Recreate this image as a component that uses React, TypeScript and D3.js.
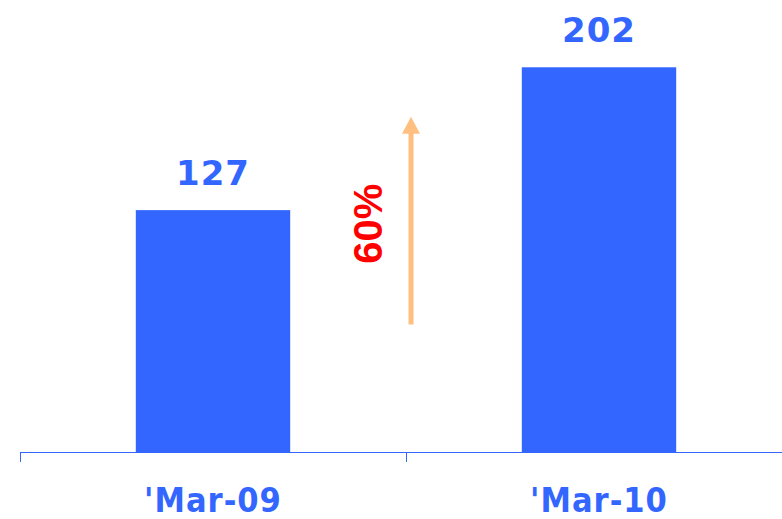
import React, { useEffect, useRef } from 'react';
import * as d3 from 'd3';

const categories = ["'Mar-09", "'Mar-10"];
const values = [127, 202];
const growthLabel = '60%';
// arrow runs between these two values on the y scale
const arrowRange = [67, 176];

const W = 782;
const H = 519;

const App = () => {
  const svgRef = useRef<SVGSVGElement | null>(null);

  useEffect(() => {
    const svg = d3.select(svgRef.current);
    svg.selectAll('*').remove();

    const blue = '#3366ff';
    const baseY = 452;

    // each category owns a full band; bars sit in the middle 40%
    const band = d3.scaleBand<string>()
      .domain(categories)
      .range([20, 792])
      .paddingInner(0)
      .paddingOuter(0);

    const barX = d3.scaleBand<string>()
      .domain(categories)
      .range([20, 792])
      .paddingInner(0.6)
      .paddingOuter(0.3);

    const y = d3.scaleLinear()
      .domain([0, 220])
      .range([baseY, 33]);

    // bars
    svg.append('g')
      .selectAll('rect')
      .data(values)
      .enter()
      .append('rect')
      .attr('x', (d, i) => barX(categories[i]) as number)
      .attr('y', d => y(d))
      .attr('width', barX.bandwidth())
      .attr('height', d => baseY - y(d))
      .attr('fill', blue);

    // value labels
    svg.append('g')
      .selectAll('text')
      .data(values)
      .enter()
      .append('text')
      .attr('x', (d, i) => (barX(categories[i]) as number) + barX.bandwidth() / 2)
      .attr('y', d => y(d) - 25)
      .attr('text-anchor', 'middle')
      .style('font-family', '"DejaVu Sans", sans-serif')
      .style('font-weight', 'bold')
      .style('font-size', '34px')
      .style('letter-spacing', '1px')
      .attr('fill', blue)
      .text(d => d);

    // axis line and ticks at band edges
    const axis = svg.append('g');
    axis.append('line')
      .attr('x1', 20)
      .attr('x2', W)
      .attr('y1', baseY + 0.5)
      .attr('y2', baseY + 0.5)
      .attr('stroke', blue)
      .attr('stroke-width', 1);

    const tickXs = categories.map(c => band(c) as number).concat([band.range()[1]]);
    axis.selectAll('.tick')
      .data(tickXs)
      .enter()
      .append('line')
      .attr('x1', d => d + 0.5)
      .attr('x2', d => d + 0.5)
      .attr('y1', baseY)
      .attr('y2', baseY + 10)
      .attr('stroke', blue)
      .attr('stroke-width', 1);

    axis.selectAll('.cat')
      .data(categories)
      .enter()
      .append('text')
      .attr('x', d => (band(d) as number) + band.bandwidth() / 2)
      .attr('y', 512)
      .attr('text-anchor', 'middle')
      .style('font-family', '"DejaVu Sans Condensed", "DejaVu Sans", sans-serif')
      .style('font-stretch', 'condensed')
      .style('font-weight', 'bold')
      .style('font-size', '34px')
      .style('letter-spacing', '1px')
      .attr('fill', blue)
      .text(d => d);

    // growth arrow
    const ax = (band(categories[1]) as number) + 5;
    const arrowColor = '#ffbf80';
    const tipY = y(arrowRange[1]);
    svg.append('line')
      .attr('x1', ax)
      .attr('x2', ax)
      .attr('y1', y(arrowRange[0]))
      .attr('y2', tipY + 16)
      .attr('stroke', arrowColor)
      .attr('stroke-width', 5);
    svg.append('path')
      .attr('d', `M${ax - 9},${tipY + 17} L${ax},${tipY} L${ax + 9},${tipY + 17} Z`)
      .attr('fill', arrowColor);

    // growth label
    svg.append('text')
      .attr('transform', `translate(382,${(y(arrowRange[0]) + tipY) / 2 + 3}) rotate(-90)`)
      .attr('text-anchor', 'middle')
      .style('font-family', '"Liberation Sans", Arial, sans-serif')
      .style('font-weight', 'bold')
      .style('font-size', '40px')
      .attr('fill', '#ff0000')
      .text(growthLabel);
  }, []);

  return (
    <div style={{ position: 'absolute', left: 0, top: 0, width: W, height: H, overflow: 'hidden', background: '#fff' }}>
      <svg ref={svgRef} width={W} height={H} style={{ display: 'block' }} />
    </div>
  );
};

export default App;
